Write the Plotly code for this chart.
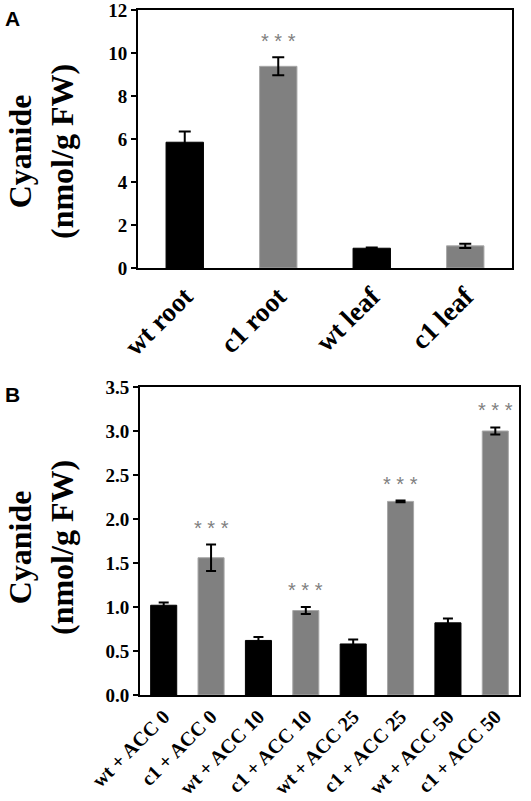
import plotly.graph_objects as go

# Panel A data
a_categories = ["wt root", "c1 root", "wt leaf", "c1 leaf"]
a_values = [5.85, 9.38, 0.92, 1.03]
a_errors = [0.50, 0.42, 0.03, 0.10]
a_colors = ["#000000", "#808080", "#000000", "#808080"]
a_signif = ["", "* * *", "", ""]

# Panel B data
b_categories = ["wt + ACC 0", "c1 + ACC 0", "wt + ACC 10", "c1 + ACC 10",
                "wt + ACC 25", "c1 + ACC 25", "wt + ACC 50", "c1 + ACC 50"]
b_values = [1.02, 1.56, 0.62, 0.96, 0.58, 2.20, 0.82, 3.00]
b_errors = [0.03, 0.15, 0.04, 0.04, 0.05, 0.01, 0.05, 0.04]
b_colors = ["#000000", "#808080"] * 4
b_signif = ["", "* * *", "", "* * *", "", "* * *", "", "* * *"]

a_ticks = [0, 2, 4, 6, 8, 10, 12]
b_ticks = [0.0, 0.5, 1.0, 1.5, 2.0, 2.5, 3.0, 3.5]

serif = "Liberation Serif"
line_colors = ["#000000" if c == "#000000" else "#a8a8a8" for c in a_colors]
line_colors_b = ["#000000" if c == "#000000" else "#a8a8a8" for c in b_colors]

fig = go.Figure()
fig.add_trace(go.Bar(
    x=a_categories, y=a_values, width=0.4,
    marker=dict(color=a_colors, line=dict(color=line_colors, width=1)),
    error_y=dict(type="data", array=a_errors, color="#000000", thickness=2, width=6),
    xaxis="x", yaxis="y", showlegend=False,
))
fig.add_trace(go.Bar(
    x=b_categories, y=b_values, width=0.55,
    marker=dict(color=b_colors, line=dict(color=line_colors_b, width=1)),
    error_y=dict(type="data", array=b_errors, color="#000000", thickness=2, width=5),
    xaxis="x2", yaxis="y2", showlegend=False,
))

star_font = dict(family="Liberation Sans", size=20, color="#808080")
annotations = []
for cat, v, e, s in zip(a_categories, a_values, a_errors, a_signif):
    if s:
        annotations.append(dict(x=cat, y=v + e, xref="x", yref="y", text=s,
                                showarrow=False, yanchor="middle", yshift=16,
                                font=star_font))
for cat, v, e, s in zip(b_categories, b_values, b_errors, b_signif):
    if s:
        annotations.append(dict(x=cat, y=v + e, xref="x2", yref="y2", text=s,
                                showarrow=False, yanchor="middle", yshift=17,
                                font=star_font))

title_font = dict(family=serif, size=32, color="#000000", weight="bold")
annotations.append(dict(x=41 / 531, y=1 - 152 / 801, xref="paper", yref="paper",
                        text="Cyanide<br>(nmol/g FW)", textangle=-90,
                        showarrow=False, xanchor="center", yanchor="middle",
                        font=title_font))
annotations.append(dict(x=41 / 531, y=1 - 548 / 801, xref="paper", yref="paper",
                        text="Cyanide<br>(nmol/g FW)", textangle=-90,
                        showarrow=False, xanchor="center", yanchor="middle",
                        font=title_font))
letter_font = dict(family="Liberation Sans", size=21, color="#000000", weight="bold")
annotations.append(dict(x=3 / 531, y=1 - 5 / 801, xref="paper", yref="paper",
                        text="A", showarrow=False, xanchor="left", yanchor="top",
                        font=letter_font))
annotations.append(dict(x=3 / 531, y=1 - 381 / 801, xref="paper", yref="paper",
                        text="B", showarrow=False, xanchor="left", yanchor="top",
                        font=letter_font))

axis_common = dict(showline=True, linecolor="#000000", linewidth=2, mirror=True,
                   showgrid=False, zeroline=False, automargin=False,
                   ticklabeloverflow="allow")

fig.update_layout(
    width=531, height=801,
    margin=dict(l=0, r=0, t=0, b=0, autoexpand=False),
    paper_bgcolor="white", plot_bgcolor="white",
    annotations=annotations,
    xaxis=dict(domain=[138 / 531, 512 / 531], anchor="y", tickangle=-45,
               ticks="",
               tickfont=dict(family=serif, size=27, color="#000000", weight="bold"),
               **axis_common),
    yaxis=dict(domain=[1 - 268 / 801, 1 - 10 / 801], anchor="x", range=[0, 12],
               tickvals=a_ticks, ticks="outside", ticklen=5, tickwidth=2,
               tickcolor="#000000",
               tickfont=dict(family=serif, size=19, color="#000000", weight="bold"),
               **axis_common),
    xaxis2=dict(domain=[140 / 531, 519 / 531], anchor="y2", tickangle=-45,
                ticks="",
                tickfont=dict(family=serif, size=20, color="#000000", weight="bold"),
                **axis_common),
    yaxis2=dict(domain=[1 - 695 / 801, 1 - 387 / 801], anchor="x2", range=[0, 3.5],
                tickvals=b_ticks, tickformat=".1f", ticks="outside", ticklen=5,
                tickwidth=2, tickcolor="#000000",
                tickfont=dict(family=serif, size=19, color="#000000", weight="bold"),
                **axis_common),
)

fig.write_html("out.html", config={"displayModeBar": False},
               post_script="document.body.style.margin='0';document.body.style.padding='0';")
